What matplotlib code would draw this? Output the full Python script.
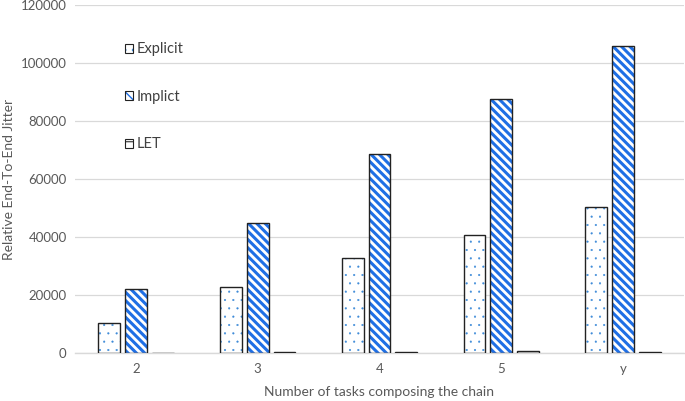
import numpy as np
import matplotlib
matplotlib.use('Agg')
import matplotlib.pyplot as plt
from matplotlib.patches import Patch

plt.rcParams['font.family'] = ['Lato', 'DejaVu Sans']

# Values
categories = ['2', '3', '4', '5', 'y']
explicit = [10500, 22800, 32800, 40700, 50500]
implicit = [22000, 44900, 68500, 87600, 105800]
let = [100, 400, 500, 600, 400]

blue = '#1f6fe5'
dot_blue = '#3d8ad8'
grey_txt = '#595959'

fig = plt.figure(figsize=(6.85, 4.01), dpi=100)
ax = fig.add_axes([0.1095, 0.1197, 0.8890, 0.8678])

x = np.arange(len(categories))
width = 0.18
step = 0.22

series = [
    ('Explicit', explicit, '..', dot_blue, 0.3),
    ('Implict', implicit, '\\\\\\\\', blue, 2.2),
    ('LET', let, '-', '#555555', 1.0),
]

handles = []
for i, (name, vals, hatch, hcol, hlw) in enumerate(series):
    pos = x + (i - 1) * step
    # hatch layer first, then a plain outline on top so the edge stays dark
    hb = ax.bar(pos, vals, width, color='white', edgecolor=hcol, hatch=hatch,
                linewidth=0, zorder=2)
    for p in hb:
        if hasattr(p, 'set_hatch_linewidth'):
            p.set_hatch_linewidth(hlw)
    ax.bar(pos, vals, width, color='none', edgecolor='#222222', linewidth=1.0, zorder=3)
    h1 = Patch(facecolor='white', edgecolor=hcol, hatch=hatch, linewidth=0)
    if hasattr(h1, 'set_hatch_linewidth'):
        h1.set_hatch_linewidth(hlw)
    h2 = Patch(facecolor='none', edgecolor='#222222', linewidth=0.8)
    handles.append((h1, h2))

ax.set_xlim(-0.5, len(categories) - 0.5)
ax.set_ylim(0, 120000)
ax.set_yticks(np.arange(0, 120001, 20000))
ax.set_xticks(x)
ax.set_xticklabels(categories)
ax.yaxis.grid(True, color='#d9d9d9', linewidth=0.9, zorder=0)
ax.set_axisbelow(True)
for s in ['top', 'right', 'left']:
    ax.spines[s].set_visible(False)
ax.spines['bottom'].set_color('#d9d9d9')
ax.spines['bottom'].set_linewidth(1.0)
ax.tick_params(axis='both', length=0, labelsize=9.5, labelcolor=grey_txt)
ax.tick_params(axis='x', pad=7)
ax.tick_params(axis='y', pad=6)

ax.set_xlabel('Number of tasks composing the chain', fontsize=10, color=grey_txt, labelpad=8)
ax.set_ylabel('Relative End-To-End Jitter', fontsize=10, color=grey_txt, labelpad=4)

leg = ax.legend(handles, [s[0] for s in series], loc='upper left',
                bbox_to_anchor=(0.06, 0.93), frameon=False, fontsize=10.5,
                handlelength=0.55, handleheight=0.55, handletextpad=0.3,
                labelspacing=2.29, labelcolor='#404040')

fig.savefig('out.png', dpi=100)
